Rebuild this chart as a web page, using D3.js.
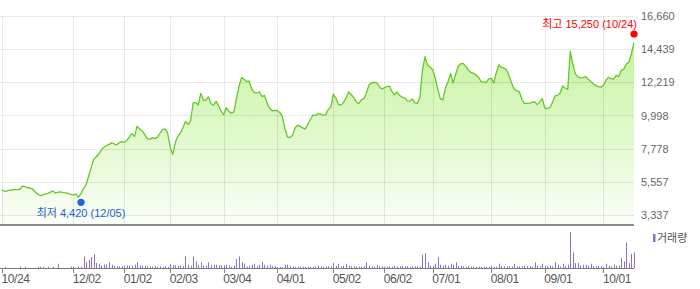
<!DOCTYPE html>
<html>
<head>
<meta charset="utf-8">
<script src="https://cdn.jsdelivr.net/npm/d3@7"></script>
<style>
  html, body { margin: 0; padding: 0; background: #fff; }
  svg text { font-family: "Liberation Sans", Arial, "Noto Sans CJK KR", sans-serif; }
</style>
</head>
<body>
<svg id="chart" width="700" height="289"></svg>
<script>
// daily closing prices, 10/24 .. 10/24 (one per trading day)
const prices = [
  5040,4970,4960,5030,5050,5070,5060,5090,5300,5260,
  5190,5170,5110,4920,4760,4670,4720,4770,4810,4900,
  4970,4830,4890,4910,4870,4850,4820,4750,4710,4770,
  4560,4800,5120,5390,5960,6530,7090,7260,7460,7710,
  7900,8010,8090,8190,8120,8060,8200,8270,8230,8350,
  8590,8820,8610,9300,9110,8970,8750,8470,8420,8540,
  8470,8570,8830,9070,9120,8840,7880,7420,8210,8630,
  8850,9200,9620,9430,9660,10850,10890,10720,11490,11050,
  11020,11250,10800,10700,10960,10670,10290,10080,10540,10290,
  10170,10260,11160,11970,12560,12430,12290,12310,11770,11560,
  11520,11600,11280,11360,10860,10500,10330,10350,10350,10220,
  9960,9150,8590,8540,8690,9180,9370,9290,9190,9120,
  9430,9750,10040,10020,10150,10100,10040,10060,10420,10560,
  11450,11180,10760,10710,10880,11190,11590,11420,11220,10930,
  10810,11060,11140,11520,12060,12200,12230,12210,11960,11790,
  11870,11950,11980,11620,11400,11580,11350,11240,11200,10990,
  10980,11120,10860,10820,11240,13070,13950,13370,13250,13070,
  12550,11760,11140,11060,11860,12250,12830,12180,12750,13290,
  13470,13500,13290,13030,12900,12830,12710,12570,12280,12250,
  12210,12460,12490,12190,12910,13400,13230,13190,13060,12650,
  12160,11790,11670,11600,11100,10830,10830,10840,10890,10940,
  10740,10910,11160,10500,10480,10540,10880,11320,11360,11520,
  11990,11850,11760,14300,13420,12800,12590,12530,12550,12620,
  12430,12310,12140,12010,11940,11910,12020,12390,12570,12470,
  12450,12700,12610,13040,13110,13460,13590,14160,14880
];

// daily volume (thousand shares)
const volumes = [
  5,52,5,5,5,5,5,52,5,52,
  5,5,5,5,52,52,52,5,52,5,
  52,5,172,5,5,5,5,52,52,5,
  52,52,468,228,332,440,572,200,172,92,
  132,132,228,132,92,68,68,68,92,92,
  92,92,132,240,108,92,92,68,68,52,
  68,52,68,52,68,52,172,120,108,92,
  92,68,468,132,92,468,268,132,228,92,
  92,228,132,132,132,108,108,108,132,92,
  52,92,360,468,228,172,60,92,132,172,
  68,132,252,132,92,132,68,68,40,40,
  40,132,132,68,52,52,52,52,52,52,
  52,52,52,52,92,68,52,68,68,68,
  200,92,172,68,92,172,92,68,68,68,
  52,52,68,228,92,68,52,132,68,68,
  52,52,68,52,92,52,68,92,68,68,
  52,68,68,68,52,532,600,228,92,92,
  172,440,132,92,132,92,172,132,228,92,
  92,68,52,68,52,52,52,52,52,52,
  52,52,92,52,52,172,68,68,68,68,
  52,172,68,68,68,92,68,68,52,228,
  92,68,172,92,68,92,68,228,132,68,
  172,68,132,1452,628,200,200,92,132,132,
  92,172,92,68,92,68,52,172,92,68,
  132,92,92,400,268,1028,200,572,628
];

const tickIdx = [0, 28, 48, 66, 87, 108, 130, 150, 169, 192, 213, 236];
const tickLabels = ['10/24', '12/02', '01/02', '02/03', '03/04', '04/01', '05/02', '06/02', '07/01', '08/01', '09/01', '10/01'];
const yTicks = [3337, 5557, 7778, 9998, 12219, 14439, 16660];

const lowPoint = { idx: 31, value: 4420, date: '12/05' };
const highPoint = { idx: 248, value: 15250, date: '10/24' };

const left = 2, right = 634;
const priceTop = 16, priceBottom = 215.5, plotBottom = 225;
const volTop = 232, volBottom = 268;

const svg = d3.select('#chart');

const x = d3.scaleLinear().domain([0, prices.length - 1]).range([left, right]);
const y = d3.scaleLinear().domain([yTicks[0], yTicks[yTicks.length - 1]]).range([priceBottom, priceTop]);
const v = d3.scaleLinear().domain([0, d3.max(volumes)]).range([volBottom, volTop]);
const fmt = d3.format(',');

// gradient for the price area
const grad = svg.append('defs').append('linearGradient')
  .attr('id', 'areaFill')
  .attr('gradientUnits', 'userSpaceOnUse')
  .attr('x1', 0).attr('y1', 40).attr('x2', 0).attr('y2', plotBottom);
grad.append('stop').attr('offset', '0%').attr('stop-color', '#c6f29e');
grad.append('stop').attr('offset', '55%').attr('stop-color', '#e2f9cf');
grad.append('stop').attr('offset', '100%').attr('stop-color', '#fbfef9');

// area
svg.append('path')
  .datum(prices)
  .attr('fill', 'url(#areaFill)')
  .attr('d', d3.area()
    .x((d, i) => x(i))
    .y0(plotBottom)
    .y1(d => y(d)));

// grid
const grid = svg.append('g').attr('stroke', '#000').attr('stroke-opacity', 0.085);
grid.selectAll('.hg')
  .data(yTicks)
  .enter()
  .append('line')
  .attr('x1', 0).attr('x2', right)
  .attr('y1', d => Math.floor(y(d)) + 0.5)
  .attr('y2', d => Math.floor(y(d)) + 0.5);
grid.selectAll('.vg')
  .data(tickIdx)
  .enter()
  .append('line')
  .attr('x1', d => Math.round(x(d)) + 0.5)
  .attr('x2', d => Math.round(x(d)) + 0.5)
  .attr('y1', priceTop).attr('y2', plotBottom);

// price line
svg.append('path')
  .datum(prices)
  .attr('fill', 'none')
  .attr('stroke', '#64c828')
  .attr('stroke-width', 1.3)
  .attr('stroke-linejoin', 'round')
  .attr('d', d3.line().x((d, i) => x(i)).y(d => y(d)));

// bottom of price panel
svg.append('line')
  .attr('x1', 0).attr('x2', right)
  .attr('y1', plotBottom).attr('y2', plotBottom)
  .attr('stroke', '#8c8c8c').attr('stroke-width', 2);

// y labels
svg.selectAll('.ylab')
  .data(yTicks)
  .enter()
  .append('text')
  .attr('x', 641)
  .attr('y', d => y(d))
  .attr('dy', '0.36em')
  .attr('font-size', 11)
  .attr('fill', '#666')
  .text(d => fmt(d));

// volume bars
svg.selectAll('.vol')
  .data(volumes)
  .enter()
  .append('rect')
  .attr('x', (d, i) => Math.round(x(i)))
  .attr('y', d => v(d))
  .attr('width', 1)
  .attr('height', d => volBottom - v(d))
  .attr('fill', '#8b71c9');

// volume baseline and ticks
svg.append('line')
  .attr('x1', 0).attr('x2', right)
  .attr('y1', volBottom + 0.5).attr('y2', volBottom + 0.5)
  .attr('stroke', '#7a7a7a');
svg.selectAll('.xt')
  .data(tickIdx)
  .enter()
  .append('line')
  .attr('x1', d => Math.round(x(d)) + 0.5)
  .attr('x2', d => Math.round(x(d)) + 0.5)
  .attr('y1', volBottom).attr('y2', volBottom + 5)
  .attr('stroke', '#8a8a8a');

// x labels
svg.selectAll('.xlab')
  .data(tickIdx)
  .enter()
  .append('text')
  .attr('x', d => x(d) - 0.5)
  .attr('y', 283)
  .attr('font-size', 12)
  .attr('letter-spacing', -0.4)
  .attr('fill', '#555')
  .text((d, i) => tickLabels[i]);

// legend
svg.append('rect')
  .attr('x', 653).attr('y', 234)
  .attr('width', 2.5).attr('height', 8)
  .attr('fill', '#8b71c9');
svg.append('text')
  .attr('x', 657).attr('y', 242)
  .attr('font-size', 11)
  .attr('fill', '#555')
  .text('거래량');

// high marker
svg.append('circle')
  .attr('cx', x(highPoint.idx))
  .attr('cy', y(highPoint.value) - 3)
  .attr('r', 3.6)
  .attr('fill', '#f00');
svg.append('text')
  .attr('x', 637).attr('y', 28)
  .attr('text-anchor', 'end')
  .attr('font-size', 11)
  .attr('fill', '#f00')
  .text('최고 ' + fmt(highPoint.value) + ' (' + highPoint.date + ')');

// low marker
svg.append('circle')
  .attr('cx', x(lowPoint.idx))
  .attr('cy', y(lowPoint.value) + 3)
  .attr('r', 3.6)
  .attr('fill', '#1e66de');
svg.append('text')
  .attr('x', x(lowPoint.idx))
  .attr('y', y(lowPoint.value) + 17.5)
  .attr('text-anchor', 'middle')
  .attr('font-size', 11)
  .attr('fill', '#1f62d4')
  .text('최저 ' + fmt(lowPoint.value) + ' (' + lowPoint.date + ')');
</script>
</body>
</html>
